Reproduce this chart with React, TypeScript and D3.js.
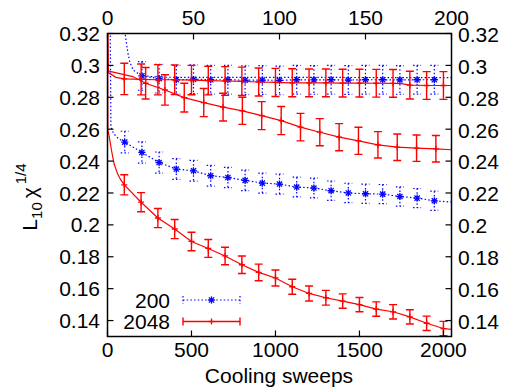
import React from "react";
import * as d3 from "d3";

// ---------- data ----------
const bottomTicks = [0, 500, 1000, 1500, 2000];
const topTicks = [0, 50, 100, 150, 200];
const yTicks = [0.14, 0.16, 0.18, 0.2, 0.22, 0.24, 0.26, 0.28, 0.3, 0.32];
const yTickLabels = ["0.14", "0.16", "0.18", "0.2", "0.22", "0.24", "0.26", "0.28", "0.3", "0.32"];
const legendLabels = ["200", "2048"];

// L=200, lower curve (top axis, 0..200)
const blueLowLineX = [1, 2, 3, 4, 5, 6, 8, 10, 20, 30, 40, 50, 60, 70, 80, 90, 100, 110, 120, 130, 140, 150, 160, 170, 180, 190, 200];
const blueLowLineY = [0.4, 0.2615, 0.2585, 0.2568, 0.2555, 0.2545, 0.253, 0.2519, 0.2454, 0.2391, 0.235, 0.2339, 0.2308, 0.2297, 0.2279, 0.2262, 0.2256, 0.2237, 0.2231, 0.2214, 0.22, 0.2195, 0.2193, 0.2178, 0.2168, 0.2151, 0.2143];
const blueLowBarX = [10, 20, 30, 40, 50, 60, 70, 80, 90, 100, 110, 120, 130, 140, 150, 160, 170, 180, 190];
const blueLowBarY = [0.2519, 0.2454, 0.2391, 0.235, 0.2339, 0.2308, 0.2297, 0.2279, 0.2262, 0.2256, 0.2237, 0.2231, 0.2214, 0.22, 0.2195, 0.2193, 0.2178, 0.2168, 0.2151];
const blueLowBarErr = [0.0068, 0.0067, 0.0066, 0.0065, 0.0065, 0.0065, 0.0064, 0.0064, 0.0063, 0.0063, 0.0062, 0.0062, 0.0061, 0.0061, 0.006, 0.006, 0.006, 0.006, 0.006];

// L=200, upper curve (top axis)
const blueUpLineX = [9, 10, 11, 12, 13, 15, 18, 20, 25, 30, 50, 100, 150, 200];
const blueUpLineY = [0.34, 0.322, 0.314, 0.307, 0.302, 0.297, 0.2948, 0.2938, 0.293, 0.2926, 0.2925, 0.2925, 0.2924, 0.2923];
const blueUpBarX = [20, 30, 40, 50, 60, 70, 80, 90, 100, 110, 120, 130, 140, 150, 160, 170, 180, 190];
const blueUpBarY = [0.2934, 0.2917, 0.291, 0.2913, 0.291, 0.291, 0.2907, 0.2908, 0.2906, 0.291, 0.2909, 0.291, 0.2908, 0.291, 0.291, 0.2909, 0.291, 0.291];
const blueUpBarErr = [0.009, 0.009, 0.009, 0.009, 0.009, 0.009, 0.009, 0.009, 0.009, 0.009, 0.009, 0.009, 0.009, 0.009, 0.009, 0.009, 0.009, 0.009];

// L=2048, lower curve (bottom axis, 0..2048)
const redLowLineX = [0, 2, 10, 25, 40, 60, 80, 100, 200, 300, 400, 500, 600, 700, 800, 900, 1000, 1100, 1200, 1300, 1400, 1500, 1600, 1700, 1800, 1900, 2000, 2048];
const redLowLineY = [0.34, 0.2595, 0.2555, 0.246, 0.238, 0.232, 0.228, 0.2251, 0.2142, 0.2043, 0.1974, 0.1896, 0.1852, 0.1805, 0.175, 0.1702, 0.1667, 0.1612, 0.157, 0.1543, 0.1522, 0.15, 0.1472, 0.1455, 0.1423, 0.1383, 0.135, 0.1345];
const redLowBarX = [100, 200, 300, 400, 500, 600, 700, 800, 900, 1000, 1100, 1200, 1300, 1400, 1500, 1600, 1700, 1800, 1900, 2000];
const redLowBarY = [0.2251, 0.2142, 0.2043, 0.1974, 0.1896, 0.1852, 0.1805, 0.175, 0.1702, 0.1667, 0.1612, 0.157, 0.1543, 0.1522, 0.15, 0.1472, 0.1455, 0.1423, 0.1383, 0.135];
const redLowBarErr = [0.0063, 0.006, 0.006, 0.006, 0.0058, 0.0056, 0.0055, 0.0055, 0.0052, 0.005, 0.0047, 0.0047, 0.0046, 0.0045, 0.0045, 0.0045, 0.0045, 0.0045, 0.0045, 0.0045];

// L=2048, upper flat curve (bottom axis)
const redFlatLineX = [0, 5, 50, 100, 200, 300, 400, 500, 600, 700, 800, 900, 1000, 1100, 1200, 1300, 1400, 1500, 1600, 1700, 1750, 1800, 1900, 2000, 2048];
const redFlatLineY = [0.34, 0.2955, 0.2925, 0.2915, 0.2912, 0.291, 0.291, 0.2908, 0.2905, 0.2902, 0.29, 0.2896, 0.2893, 0.2891, 0.289, 0.289, 0.2889, 0.2889, 0.2888, 0.2887, 0.2886, 0.2876, 0.2874, 0.2874, 0.2874];
const redFlatBarX = [100, 200, 300, 400, 500, 600, 700, 800, 900, 1000, 1100, 1200, 1300, 1400, 1500, 1600, 1700, 1800, 1900, 2000];
const redFlatBarY = [0.2915, 0.2912, 0.291, 0.291, 0.2908, 0.2905, 0.2902, 0.29, 0.2896, 0.2893, 0.2891, 0.289, 0.289, 0.2889, 0.2889, 0.2888, 0.2887, 0.2876, 0.2874, 0.2874];
const redFlatBarErr = [0.0098, 0.0097, 0.0095, 0.0093, 0.0092, 0.009, 0.009, 0.0089, 0.0088, 0.0088, 0.0088, 0.0087, 0.0087, 0.0087, 0.0087, 0.0087, 0.0087, 0.0087, 0.0087, 0.0087];

// L=2048, upper decreasing curve (bottom axis)
const redDecLineX = [5, 15, 150, 227, 342, 457, 573, 688, 803, 918, 1034, 1149, 1264, 1379, 1494, 1610, 1725, 1840, 1955, 2048];
const redDecLineY = [0.2968, 0.2962, 0.293, 0.2888, 0.2846, 0.2798, 0.2767, 0.2738, 0.2715, 0.2685, 0.2654, 0.2613, 0.2581, 0.255, 0.2527, 0.2502, 0.2487, 0.2481, 0.2477, 0.2471];
const redDecBarX = [227, 342, 457, 573, 688, 803, 918, 1034, 1149, 1264, 1379, 1494, 1610, 1725, 1840, 1955];
const redDecBarY = [0.2888, 0.2846, 0.2798, 0.2767, 0.2738, 0.2715, 0.2685, 0.2654, 0.2613, 0.2581, 0.255, 0.2527, 0.2502, 0.2487, 0.2481, 0.2477];
const redDecBarErr = [0.0099, 0.0095, 0.009, 0.0088, 0.0087, 0.0085, 0.0088, 0.0088, 0.0086, 0.0085, 0.0085, 0.0085, 0.0083, 0.0083, 0.0083, 0.0083];

// ---------- layout ----------
const W = 511, H = 390;
const L = 107.5, R = 451.5, T = 33.5, B = 336.5;
const BLUE = "#0000ff";
const RED = "#ff0000";
const FONT = "'Liberation Sans', Arial, Helvetica, sans-serif";
const FS = 21;
const DOT = "1.5,2.2";

const xB = d3.scaleLinear().domain([0, 2048]).range([L, R]);
const xT = d3.scaleLinear().domain([0, 200]).range([L, R]);
const y = d3.scaleLinear().domain([0.13, 0.32]).range([B, T]);

function linePath(xs: number[], ys: number[], xs_: d3.ScaleLinear<number, number>) {
  const pts = xs.map((x, i) => [xs_(x), y(ys[i])] as [number, number]);
  return d3.line()(pts) || "";
}

function Marker({ cx, cy, color, type }: any) {
  const s = type === "star" ? 3.6 : 3;
  const d = s * 0.72;
  return (
    <g stroke={color} strokeWidth={1.3} strokeDasharray="none">
      <line x1={cx - s} x2={cx + s} y1={cy} y2={cy} />
      <line x1={cx} x2={cx} y1={cy - s} y2={cy + s} />
      {type === "star" && (
        <>
          <line x1={cx - d} x2={cx + d} y1={cy - d} y2={cy + d} />
          <line x1={cx - d} x2={cx + d} y1={cy + d} y2={cy - d} />
        </>
      )}
    </g>
  );
}

function Bars({ xs, ys, es, sx, color, dashed, marker }: any) {
  const cap = 4;
  return (
    <g stroke={color} fill="none" strokeWidth={dashed ? 1.2 : 1.4} strokeDasharray={dashed ? DOT : undefined}>
      {xs.map((x: number, i: number) => {
        const px = sx(x);
        const y1 = y(ys[i] + es[i]);
        const y2 = y(ys[i] - es[i]);
        return (
          <g key={i}>
            <line x1={px} x2={px} y1={y1} y2={y2} />
            <line x1={px - cap} x2={px + cap} y1={y1} y2={y1} />
            <line x1={px - cap} x2={px + cap} y1={y2} y2={y2} />
          </g>
        );
      })}
      {xs.map((x: number, i: number) => (
        <Marker key={"m" + i} cx={sx(x)} cy={y(ys[i])} color={color} type={marker} />
      ))}
    </g>
  );
}

export default function App() {
  const tick = 6;
  return (
    <svg width={W} height={H} style={{ position: "absolute", left: 0, top: 0, background: "#fff" }} fontFamily={FONT}>
      <defs>
        <clipPath id="plot">
          <rect x={L} y={T} width={R - L} height={B - T} />
        </clipPath>
      </defs>
      <rect x={0} y={0} width={W} height={H} fill="#fff" />

      <g clipPath="url(#plot)">
        <path d={linePath(blueLowLineX, blueLowLineY, xT)} stroke={BLUE} fill="none" strokeWidth={1.2} strokeDasharray={DOT} />
        <path d={linePath(blueUpLineX, blueUpLineY, xT)} stroke={BLUE} fill="none" strokeWidth={1.2} strokeDasharray={DOT} />
        <path d={linePath(blueUpBarX, blueUpBarY, xT)} stroke={BLUE} fill="none" strokeWidth={1.2} strokeDasharray={DOT} />
        <Bars xs={blueLowBarX} ys={blueLowBarY} es={blueLowBarErr} sx={xT} color={BLUE} dashed marker="star" />
        <Bars xs={blueUpBarX} ys={blueUpBarY} es={blueUpBarErr} sx={xT} color={BLUE} dashed marker="star" />

        <path d={linePath(redLowLineX, redLowLineY, xB)} stroke={RED} fill="none" strokeWidth={1.2} />
        <path d={linePath(redFlatLineX, redFlatLineY, xB)} stroke={RED} fill="none" strokeWidth={1.2} />
        <path d={linePath(redDecLineX, redDecLineY, xB)} stroke={RED} fill="none" strokeWidth={1.2} />
        <Bars xs={redLowBarX} ys={redLowBarY} es={redLowBarErr} sx={xB} color={RED} marker="plus" />
        <Bars xs={redFlatBarX} ys={redFlatBarY} es={redFlatBarErr} sx={xB} color={RED} marker="plus" />
        <Bars xs={redDecBarX} ys={redDecBarY} es={redDecBarErr} sx={xB} color={RED} marker="plus" />
      </g>

      <g stroke="#000" strokeWidth={1.2}>
        {bottomTicks.map((t) => (
          <line key={"b" + t} x1={xB(t)} x2={xB(t)} y1={B} y2={B - tick} />
        ))}
        {topTicks.map((t) => (
          <line key={"t" + t} x1={xT(t)} x2={xT(t)} y1={T} y2={T + tick} />
        ))}
        {yTicks.map((t) => (
          <g key={"y" + t}>
            <line x1={L} x2={L + tick} y1={y(t)} y2={y(t)} />
            <line x1={R} x2={R - tick} y1={y(t)} y2={y(t)} />
          </g>
        ))}
      </g>
      <rect x={L} y={T} width={R - L} height={B - T} fill="none" stroke="#000" strokeWidth={1.5} />

      <g fontSize={FS} fill="#000">
        {bottomTicks.map((t) => (
          <text key={"bl" + t} x={xB(t)} y={357} textAnchor="middle">{t}</text>
        ))}
        {topTicks.map((t) => (
          <text key={"tl" + t} x={xT(t)} y={25} textAnchor="middle">{t}</text>
        ))}
        {yTicks.map((t, i) => (
          <g key={"yl" + t}>
            <text x={100} y={y(t)} dy="0.36em" textAnchor="end">{yTickLabels[i]}</text>
            <text x={458} y={y(t)} dy="0.4em" textAnchor="start">{yTickLabels[i]}</text>
          </g>
        ))}
      </g>

      <text x={(L + R) / 2 - 0.5} y={383} fontSize={FS} textAnchor="middle">Cooling sweeps</text>
      <text transform="translate(37,197) rotate(-90)" fontSize={FS} textAnchor="middle">
        <tspan>L</tspan>
        <tspan fontSize={15} dy={5}>10</tspan>
        <tspan dy={-5} dx={4}>χ</tspan>
        <tspan fontSize={15} dy={-11} dx={3}>1/4</tspan>
      </text>

      <g fontSize={FS}>
        <text x={170} y={300} dy="0.36em" textAnchor="end">{legendLabels[0]}</text>
        <text x={170} y={321.5} dy="0.36em" textAnchor="end">{legendLabels[1]}</text>
        <g stroke={BLUE} strokeWidth={1.2} strokeDasharray={DOT}>
          <line x1={183} x2={240} y1={300} y2={300} />
          <line x1={183} x2={183} y1={296} y2={304} />
          <line x1={240} x2={240} y1={296} y2={304} />
        </g>
        <Marker cx={211.5} cy={300} color={BLUE} type="star" />
        <g stroke={RED} strokeWidth={1.4}>
          <line x1={183} x2={240} y1={321.5} y2={321.5} />
          <line x1={183} x2={183} y1={317.5} y2={325.5} />
          <line x1={240} x2={240} y1={317.5} y2={325.5} />
        </g>
        <Marker cx={211.5} cy={321.5} color={RED} type="plus" />
      </g>
    </svg>
  );
}
